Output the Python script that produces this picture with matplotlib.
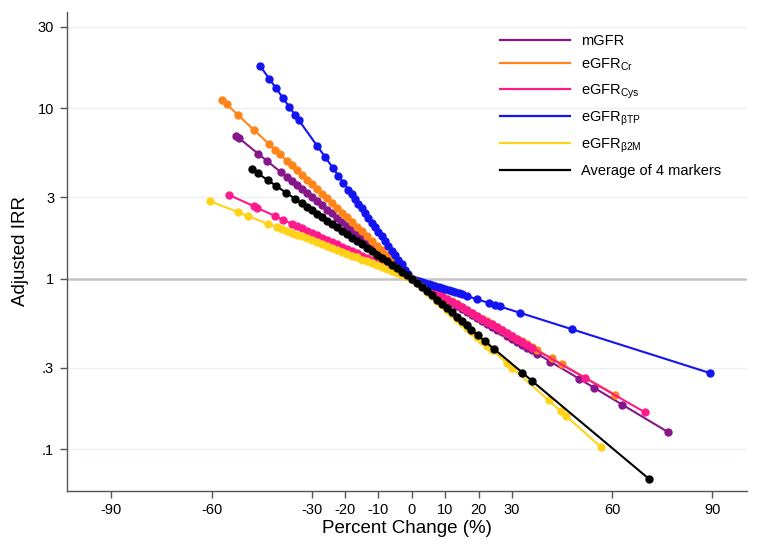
import numpy as np
import matplotlib
matplotlib.use("Agg")
from matplotlib import pyplot

pyplot.rcParams['font.family'] = ['Liberation Sans', 'DejaVu Sans']
pyplot.rcParams['mathtext.fontset'] = 'custom'
pyplot.rcParams['mathtext.rm'] = 'Liberation Sans'

# x: percent change, y: adjusted IRR
dense_neg = [-37.5, -36, -34.5, -33, -31.5, -30, -28.5, -27, -25.5, -24, -22.5, -21,
             -19.5, -18, -16.5, -15, -13.5, -12, -10.5, -9, -7.5, -6, -4.5, -3, -1.5, 0]

# mGFR
x_m = [-52.7, -51.7, -46.1, -43.5, -39.2] + dense_neg + \
      [1.5, 3, 4.5, 6, 7.5, 9, 10.5, 12, 13.5, 15, 16.5, 18, 19.5, 21, 22.5, 24, 25.5, 27,
       28.5, 30, 31.5, 33, 34.5, 36, 37.5, 41.5, 50.2, 54.6, 63.1, 76.7]
y_m = [6.88, 6.64, 5.41, 4.92, 4.20,
       3.95, 3.74, 3.54, 3.35, 3.17, 3.00, 2.84, 2.69, 2.54, 2.41, 2.28, 2.16, 2.04, 1.93,
       1.83, 1.73, 1.64, 1.55, 1.47, 1.39, 1.32, 1.25, 1.18, 1.12, 1.06, 1.0,
       0.960, 0.922, 0.886, 0.851, 0.817, 0.784, 0.753, 0.723, 0.695, 0.667, 0.641, 0.615,
       0.591, 0.567, 0.545, 0.523, 0.502, 0.483, 0.463, 0.445, 0.427, 0.410, 0.394, 0.379,
       0.363, 0.326, 0.258, 0.229, 0.182, 0.126]

# eGFR Cr
x_cr = [-56.9, -55.4, -52.2, -47.2, -42.8, -40.9, -39.5] + dense_neg + \
       [1.5, 3, 4.5, 6, 7.5, 9, 10.5, 12, 13.5, 15, 16.5, 18, 19.5, 21, 22.5, 24, 25.5, 27,
        28.5, 30, 31.5, 33, 34.5, 36, 37.5, 42, 45, 60.8]
y_cr = [11.18, 10.50, 9.16, 7.41, 6.15, 5.67, 5.35,
        4.91, 4.61, 4.32, 4.06, 3.81, 3.57, 3.35, 3.15, 2.95, 2.77, 2.60, 2.44, 2.29, 2.15,
        2.01, 1.89, 1.77, 1.66, 1.56, 1.47, 1.37, 1.29, 1.21, 1.14, 1.066, 1.0,
        0.962, 0.926, 0.891, 0.857, 0.825, 0.793, 0.763, 0.735, 0.707, 0.680, 0.654, 0.629,
        0.606, 0.583, 0.561, 0.539, 0.519, 0.499, 0.480, 0.462, 0.445, 0.428, 0.412, 0.396,
        0.381, 0.340, 0.314, 0.209]

# eGFR Cys
x_cys = [-54.7, -47.2, -46.4, -41.0, -38.5] + dense_neg[1:] + \
        [1.5, 3, 4.5, 6, 7.5, 9, 10.5, 12, 13.5, 15, 16.5, 18, 19.5, 21, 22.5, 24, 25.5, 27,
         28.5, 30, 31.5, 33, 34.5, 36, 51.8, 69.9]
y_cys = [3.09, 2.65, 2.60, 2.33, 2.21,
         2.10, 2.04, 1.97, 1.91, 1.86, 1.80, 1.74, 1.69, 1.64, 1.59, 1.54, 1.49, 1.45,
         1.41, 1.36, 1.32, 1.28, 1.24, 1.20, 1.17, 1.13, 1.10, 1.06, 1.03, 1.0,
         0.962, 0.925, 0.890, 0.856, 0.823, 0.792, 0.762, 0.733, 0.705, 0.678, 0.652, 0.627,
         0.604, 0.581, 0.559, 0.538, 0.517, 0.497, 0.478, 0.460, 0.443, 0.426, 0.410, 0.394,
         0.262, 0.164]

# eGFR beta-trace protein
x_btp = [-45.5, -42.7, -40.7, -38.5, -36.7, -35.0, -33.8, -28.3, -25.9, -23.6, -22, -20.5,
         -19, -18, -17, -16, -15, -14, -13, -12, -11, -10, -9, -8, -7, -6, -5, -4, -3, -2,
         -1, 0, 1, 2, 3, 4, 5, 6, 7, 8, 9, 10, 11, 12, 13, 14, 15, 16.5, 19.6, 23.1, 24.9,
         26.4, 32.4, 47.9, 89.4]
y_btp = [17.72, 14.85, 13.09, 11.39, 10.16, 9.13, 8.46, 5.98, 5.14, 4.44, 4.02, 3.65,
         3.32, 3.12, 2.93, 2.75, 2.58, 2.42, 2.27, 2.13, 2.00, 1.88, 1.77, 1.66, 1.56, 1.46,
         1.37, 1.29, 1.21, 1.13, 1.065, 1.0, 0.986, 0.972, 0.958, 0.944, 0.931, 0.918,
         0.905, 0.892, 0.879, 0.867, 0.855, 0.843, 0.831, 0.819, 0.807, 0.790, 0.756, 0.719,
         0.701, 0.686, 0.630, 0.505, 0.279]

# eGFR beta2-microglobulin
x_b2m = [-60.5, -52.2, -49.2, -43.2, -40.5, -39] + dense_neg + \
        [1.5, 3, 4.5, 6, 7.5, 9, 10.5, 12, 13.5, 15, 16.5, 18, 19.5, 21, 22.5, 24,
         28.4, 30.1, 41.0, 44.6, 46.1, 56.6]
y_b2m = [2.84, 2.46, 2.33, 2.10, 2.01, 1.96,
         1.91, 1.86, 1.81, 1.77, 1.72, 1.68, 1.63, 1.59, 1.55, 1.51, 1.47, 1.44, 1.40,
         1.36, 1.33, 1.29, 1.26, 1.23, 1.20, 1.17, 1.14, 1.11, 1.08, 1.05, 1.03, 1.0,
         0.942, 0.887, 0.835, 0.786, 0.740, 0.697, 0.656, 0.618, 0.582, 0.548, 0.516, 0.486,
         0.457, 0.431, 0.405, 0.382, 0.320, 0.299, 0.193, 0.167, 0.157, 0.103]

# average of 4 markers
x_avg = [-47.9, -46.2, -43.2, -40.6, -37.6, -35.0] + dense_neg[3:] + \
        [1.5, 3, 4.5, 6, 7.5, 9, 10.5, 12, 13.5, 15, 16.5, 17.8, 19.8, 21.8, 24.6, 33.1,
         35.9, 71.2]
y_avg = [4.37, 4.15, 3.78, 3.49, 3.18, 2.94,
         2.76, 2.64, 2.52, 2.40, 2.30, 2.19, 2.09, 2.00, 1.91, 1.82, 1.74, 1.66, 1.59,
         1.52, 1.45, 1.38, 1.32, 1.26, 1.20, 1.15, 1.10, 1.05, 1.0,
         0.944, 0.892, 0.843, 0.796, 0.752, 0.710, 0.671, 0.633, 0.598, 0.565, 0.534, 0.500,
         0.464, 0.430, 0.387, 0.281, 0.252, 0.0665]

series = [
    (x_m, y_m, "#87168a", "mGFR"),
    (x_cr, y_cr, "#ff8519", "eGFR$_{\\mathrm{Cr}}$"),
    (x_cys, y_cys, "#ff1a8c", "eGFR$_{\\mathrm{Cys}}$"),
    (x_btp, y_btp, "#1414f0", "eGFR$_{\\mathrm{βTP}}$"),
    (x_b2m, y_b2m, "#ffd21a", "eGFR$_{\\mathrm{β2M}}$"),
    (x_avg, y_avg, "#000000", "Average of 4 markers"),
]

x_ticks = [-90, -60, -30, -20, -10, 0, 10, 20, 30, 60, 90]
y_ticks = [0.1, 0.3, 1, 3, 10, 30]
y_tick_labels = [".1", ".3", "1", "3", "10", "30"]


def make_graph():
    fig = pyplot.figure(figsize=(7.62, 5.58), dpi=100)
    ax = fig.add_axes([0.0875, 0.1201, 0.8932, 0.8584])

    ax.set_yscale("log")
    for yt in y_ticks:
        if yt == 1:
            ax.axhline(yt, color="#c4c4c4", lw=1.8, zorder=1)
        else:
            ax.axhline(yt, color="#eaf2f4", lw=1.0, zorder=1)

    handles = []
    for xs, ys, col, lab in series:
        ax.plot(xs, ys, color=col, lw=1.5, marker="o", ms=5.0, mec=col, mfc=col, zorder=3)
        h, = ax.plot([], [], color=col, lw=1.6, label=lab)
        handles.append(h)

    ax.set_xlim(-103.4, 100.5)
    ax.set_ylim(0.0568, 36.6)
    ax.set_xticks(x_ticks)
    ax.set_xticklabels([str(t) for t in x_ticks])
    ax.set_yticks(y_ticks)
    ax.set_yticklabels(y_tick_labels)
    ax.minorticks_off()
    ax.tick_params(axis="both", labelsize=10.5, length=5, color="#555555", width=1.0, pad=4)

    for s in ["top", "right"]:
        ax.spines[s].set_visible(False)
    for s in ["left", "bottom"]:
        ax.spines[s].set_color("#555555")
        ax.spines[s].set_linewidth(1.0)

    ax.set_xlabel("Percent Change (%)", fontsize=13.5, labelpad=2)
    ax.set_ylabel("Adjusted IRR", fontsize=13.5)
    ax.yaxis.set_label_coords(-0.055, 0.5)

    ax.legend(handles=handles, loc="upper left", bbox_to_anchor=(0.618, 0.982), frameon=False,
              fontsize=10.5, handlelength=4.8, handletextpad=0.7, labelspacing=0.6)

    fig.savefig("out.png")


if __name__ == "__main__":
    make_graph()
